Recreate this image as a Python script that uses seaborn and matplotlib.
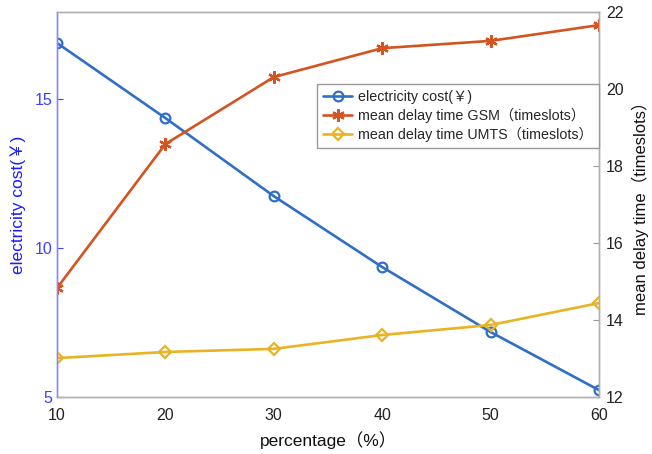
import matplotlib
matplotlib.use("Agg")
import matplotlib.pyplot as plt
import seaborn as sns
import numpy as np

sns.set_style("white")
plt.rcParams['font.family'] = ['Liberation Sans', 'Noto Sans CJK SC', 'DejaVu Sans']

percentage = [10, 20, 30, 40, 50, 60]
electricity_cost = [16.88, 14.36, 11.74, 9.36, 7.18, 5.23]
delay_gsm = [14.83, 18.57, 20.31, 21.06, 21.25, 21.66]
delay_umts = [13.01, 13.17, 13.25, 13.61, 13.87, 14.44]

labels = ["electricity cost(￥)", "mean delay time GSM（timeslots）", "mean delay time UMTS（timeslots）"]
c_blue, c_orange, c_yellow = "#2f6fc6", "#d35420", "#e8b424"

fig = plt.figure(figsize=(6.52, 4.54), dpi=100)
ax = fig.add_axes([57/652, 57/454, 542/652, 385/454])
ax2 = ax.twinx()

sns.lineplot(x=percentage, y=electricity_cost, ax=ax, color=c_blue, marker='o',
             markersize=7, markerfacecolor='none', markeredgecolor=c_blue,
             markeredgewidth=1.6, linewidth=1.9, label=labels[0], legend=False)
sns.lineplot(x=percentage, y=delay_gsm, ax=ax2, color=c_orange, marker=(6, 2, 0),
             markersize=9, markeredgecolor=c_orange, markeredgewidth=1.6,
             linewidth=1.9, label=labels[1], legend=False)
sns.lineplot(x=percentage, y=delay_umts, ax=ax2, color=c_yellow, marker='D',
             markersize=6, markerfacecolor='none', markeredgecolor=c_yellow,
             markeredgewidth=1.6, linewidth=1.9, label=labels[2], legend=False)

ax.set_xlim(10, 60)
ax.set_ylim(5, 17.92)
ax2.set_ylim(12, 22)
ax.set_xticks([10, 20, 30, 40, 50, 60])
ax.set_yticks([5, 10, 15])
ax2.set_yticks([12, 14, 16, 18, 20, 22])

left_col = "#4040ff"
for a in (ax, ax2):
    for s in a.spines.values():
        s.set_color("#b0b0b0")
        s.set_linewidth(1.0)
ax.spines['left'].set_color("#8888ff")
ax2.spines['left'].set_color("#8888ff")

ax.tick_params(axis='y', direction='in', colors=left_col, labelsize=11.5, length=4)
ax.tick_params(axis='x', direction='in', colors="#999999", labelcolor="#222222", labelsize=11.5, length=4, pad=8)
ax2.tick_params(axis='y', direction='in', colors="#999999", labelcolor="#222222", labelsize=11.5, length=4, pad=5)

ax.set_xlabel("percentage（%）", fontsize=12.5, color="#111111", labelpad=6)
ax.set_ylabel("electricity cost(￥)", fontsize=12.5, color="#1a1aff", labelpad=6)
ax2.set_ylabel("mean delay time（timeslots）", fontsize=12, color="#111111", labelpad=6)

h1, l1 = ax.get_legend_handles_labels()
h2, l2 = ax2.get_legend_handles_labels()
leg = ax2.legend(h1 + h2, l1 + l2, loc='upper right', bbox_to_anchor=(1.0, 0.813),
                 borderaxespad=0.0,
                 fontsize=10.3, frameon=True, fancybox=False, framealpha=1,
                 edgecolor="#999999", handlelength=2.0, borderpad=0.45,
                 labelspacing=0.25, handletextpad=0.4)
leg.get_frame().set_linewidth(1.0)

fig.savefig("out.png", dpi=100)
